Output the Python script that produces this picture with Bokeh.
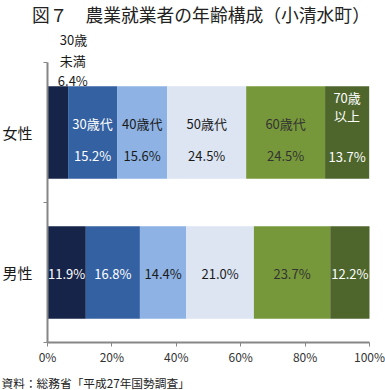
from bokeh.plotting import figure
from bokeh.models import Range1d, FixedTicker, ColumnDataSource, Label
from bokeh.embed import file_html
from bokeh.resources import INLINE
from bokeh.core.properties import value

title_text = "図７　農業就業者の年齢構成（小清水町）"
source_text = "資料：総務省「平成27年国勢調査」"
age_groups = ["30歳未満", "30歳代", "40歳代", "50歳代", "60歳代", "70歳以上"]
female = [6.4, 15.2, 15.6, 24.5, 24.5, 13.7]
male = [11.9, 16.8, 14.4, 21.0, 23.7, 12.2]
rows = ["男性", "女性"]
x_ticks = [0, 20, 40, 60, 80, 100]

colors = ["#16244a", "#3461a2", "#8db2e3", "#dde5f3", "#77983a", "#4e662c"]
label_colors = ["#ffffff", "#ffffff", "#1a1a1a", "#1a1a1a", "#333333", "#ffffff"]
FONT = "Noto Sans CJK JP"

# canvas / layout (pixels)
W, H = 385, 390
PLOT_L, PLOT_R, PLOT_T, PLOT_B = 47, 369, 62, 342
PXX = (PLOT_R - PLOT_L) / 100.0
PXY = (PLOT_B - PLOT_T) / 2.0

x0 = -PLOT_L / PXX
x1 = 100 + (W - PLOT_R) / PXX
y0 = -(H - PLOT_B) / PXY
y1 = 2 + PLOT_T / PXY

p = figure(width=W, height=H, output_backend="svg", toolbar_location=None,
           x_range=Range1d(x0, x1), y_range=Range1d(y0, y1),
           min_border=0, min_border_left=0, min_border_right=0,
           min_border_top=0, min_border_bottom=0)
p.outline_line_color = None
p.xgrid.grid_line_color = None
p.ygrid.grid_line_color = None
p.background_fill_color = "white"
p.border_fill_color = "white"

def segs(vals):
    lefts, rights = [], []
    acc = 0.0
    for v in vals:
        lefts.append(acc)
        acc += v
        rights.append(acc)
    return lefts, rights

row_pos = {"男性": 0.5, "女性": 1.5}
bar_data = {"y": [], "left": [], "right": [], "color": []}
txt = {"x": [], "y": [], "text": [], "color": [], "dy": []}
for row, vals in (("男性", male), ("女性", female)):
    lefts, rights = segs(vals)
    for i, v in enumerate(vals):
        bar_data["y"].append(row_pos[row])
        bar_data["left"].append(lefts[i])
        bar_data["right"].append(rights[i])
        bar_data["color"].append(colors[i])
        cx = (lefts[i] + rights[i]) / 2
        if row == "男性":
            txt["x"].append(cx); txt["y"].append(row_pos[row])
            txt["text"].append(f"{v:.1f}%"); txt["color"].append(label_colors[i]); txt["dy"].append(1)
        elif i > 0:
            name = age_groups[i]
            if name.endswith("以上"):
                lines = [name[:-2], name[-2:]]
                dys = [-35.5, -17.5]
            else:
                lines = [name]
                dys = [-9.5]
            for line, d in zip(lines, dys):
                txt["x"].append(cx); txt["y"].append(row_pos[row])
                txt["text"].append(line); txt["color"].append(label_colors[i]); txt["dy"].append(d)
            txt["x"].append(cx); txt["y"].append(row_pos[row])
            txt["text"].append(f"{v:.1f}%"); txt["color"].append(label_colors[i])
            txt["dy"].append(24 if name.endswith("以上") else 22.5)

p.hbar(y="y", left="left", right="right", height=0.66, color="color", line_color=None,
       source=ColumnDataSource(bar_data))
p.text(x="x", y="y", text="text", text_color="color", y_offset="dy",
       text_align="center", text_baseline="middle", text_font=value(FONT),
       text_font_size="13px", source=ColumnDataSource(txt))

# label for first female segment, above the bar
fl, fr = segs(female)
first_lines = ["30歳", "未満", f"{female[0]:.1f}%"]
first_up = [47, 25.5, 5.5]
first_dx = [2, 2, 0]
for line, up, dx in zip(first_lines, first_up, first_dx):
    p.add_layout(Label(x=(fl[0] + fr[0]) / 2, y=row_pos["女性"] + 0.33, text=line,
                       x_offset=dx, y_offset=up,
                       text_align="left", text_baseline="middle", text_font=FONT,
                       text_font_size="13px", text_color="#1a1a1a"))

# title and source note
p.add_layout(Label(x=x0 + 200.5 / PXX, y=y1 - 13 / PXY, text=title_text,
                   text_align="center", text_baseline="middle", text_font=FONT,
                   text_font_size="17.8px", text_color="#222222"))
p.add_layout(Label(x=x0 + 1 / PXX, y=y0 + (H - 382) / PXY, text=source_text,
                   text_align="left", text_baseline="middle", text_font=FONT,
                   text_font_size="11.7px", text_color="#222222"))

# axes fixed at the data origin
xa = p.xaxis[0]
xa.fixed_location = 0
xa.bounds = (0, 100)
xa.ticker = FixedTicker(ticks=x_ticks)
xa.major_label_overrides = {t: f"{t}%" for t in x_ticks}
xa.axis_line_color = "#868686"; xa.axis_line_width = 2
xa.major_tick_line_color = "#868686"; xa.major_tick_out = 4; xa.major_tick_in = 0
xa.minor_tick_line_color = None
xa.major_label_standoff = 1
xa.major_label_text_font = FONT; xa.major_label_text_font_size = "12px"
xa.major_label_text_color = "#333333"

ya = p.yaxis[0]
ya.fixed_location = 0
ya.bounds = (0, 2)
ya.ticker = FixedTicker(ticks=[row_pos[r] for r in rows], minor_ticks=[0, 1, 2])
ya.major_label_overrides = {row_pos[r]: r for r in rows}
ya.axis_line_color = "#868686"; ya.axis_line_width = 2
ya.major_tick_line_color = None
ya.minor_tick_line_color = "#868686"; ya.minor_tick_out = 4; ya.minor_tick_in = 0
ya.major_label_standoff = 9
ya.major_label_text_font = FONT; ya.major_label_text_font_size = "15px"
ya.major_label_text_color = "#1a1a1a"

open("out.html", "w").write(file_html(p, INLINE))
